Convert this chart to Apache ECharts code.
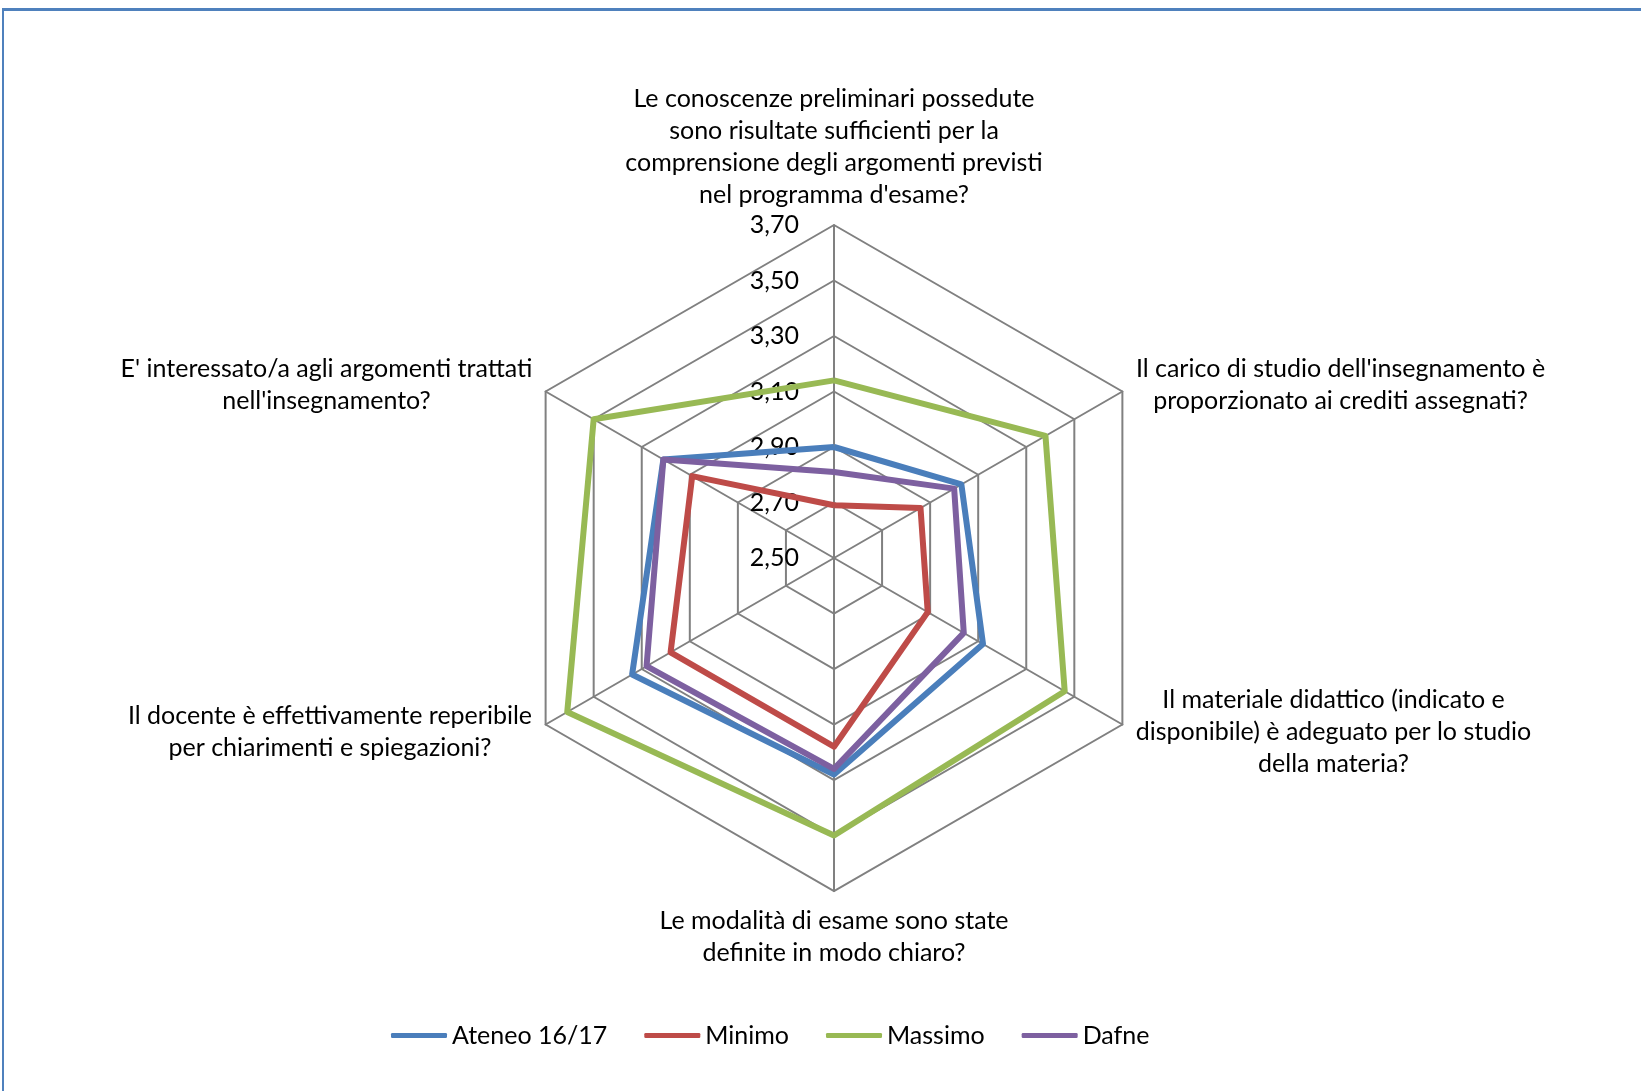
<!DOCTYPE html>
<html>
<head>
<meta charset="utf-8">
<script src="https://cdn.jsdelivr.net/npm/echarts@6/dist/echarts.min.js"></script>
<style>
    html, body { margin: 0; padding: 0; background: #fff; }
    #chart { position: absolute; left: 0; top: 0; width: 1641px; height: 1091px; }
    #frame { position: absolute; left: 2px; top: 8px; right: 0; bottom: 0;
             border-top: 3px solid #4f81bd; border-left: 2px solid #4f81bd; pointer-events: none; }
</style>
</head>
<body>
<div id="chart"></div>
<div id="frame"></div>
<script>
// domande, in senso orario dall'alto (come in Excel)
var categories = [
    "Le conoscenze preliminari possedute\nsono risultate sufficienti per la\ncomprensione degli argomenti previsti\nnel programma d'esame?",
    "Il carico di studio dell'insegnamento è\nproporzionato ai crediti assegnati?",
    "Il materiale didattico (indicato e\ndisponibile) è adeguato per lo studio\ndella materia?",
    "Le modalità di esame sono state\ndefinite in modo chiaro?",
    "Il docente è effettivamente reperibile\nper chiarimenti e spiegazioni?",
    "E' interessato/a agli argomenti trattati\nnell'insegnamento?"
];
var seriesNames = ['Ateneo 16/17', 'Minimo', 'Massimo', 'Dafne'];
var ateneo  = [2.90, 3.03, 3.12, 3.28, 3.34, 3.21];
var minimo  = [2.69, 2.86, 2.89, 3.18, 3.18, 3.09];
var massimo = [3.14, 3.38, 3.46, 3.50, 3.61, 3.50];
var dafne   = [2.81, 3.00, 3.04, 3.26, 3.28, 3.21];
var axisMin = 2.5, axisMax = 3.7, axisSplit = 6;

var colors = ['#4a7ebb', '#be4b48', '#98b954', '#7d60a0'];
var FONT = 'Lato';
var FSIZE = 25;

// echarts gira in senso antiorario -> riordino
var order = [0, 5, 4, 3, 2, 1];
var reorder = (arr) => order.map((i) => arr[i]);

// larghezza del blocco di testo, per centrare le righe
var ctx = document.createElement('canvas').getContext('2d');
ctx.font = FSIZE + 'px ' + FONT;
var blockWidth = (txt) => Math.max.apply(null, txt.split('\n').map((s) => ctx.measureText(s).width));

var rich = {};
var indicator = reorder(categories).map(function (c, i) {
    rich['n' + i] = { width: Math.ceil(blockWidth(c)) + 2, align: 'center', lineHeight: 32,
                      fontSize: FSIZE, fontFamily: FONT, color: '#000' };
    var ind = { name: c, min: axisMin, max: axisMax };
    if (i == 0) ind.axisLabel = { show: true };
    return ind;
});

var chart = echarts.init(document.getElementById('chart'), null, { renderer: 'canvas' });
chart.setOption({
    animation: false,
    color: colors,
    legend: {
        left: 386,
        top: 1018,
        data: seriesNames,
        icon: 'roundRect',
        itemWidth: 56,
        itemHeight: 5,
        itemGap: 37,
        textStyle: { fontFamily: FONT, fontSize: FSIZE, color: '#000' }
    },
    radar: {
        center: [834, 558],
        radius: 333,
        startAngle: 90,
        splitNumber: axisSplit,
        shape: 'polygon',
        nameGap: 14,
        indicator: indicator,
        axisName: {
            formatter: function (name) {
                var k = indicator.findIndex((d) => d.name == name);
                return name.split('\n').map((s) => '{n' + k + '|' + s + '}').join('\n');
            },
            rich: rich
        },
        axisLine: { lineStyle: { color: '#808080', width: 2 } },
        splitLine: { lineStyle: { color: '#808080', width: 2 } },
        splitArea: { show: false },
        axisTick: { show: false },
        axisLabel: {
            show: false,
            margin: 35,
            showMinLabel: true,
            showMaxLabel: true,
            fontFamily: FONT,
            fontSize: FSIZE,
            color: '#000',
            formatter: (v) => Number(v).toFixed(2).replace('.', ',')
        }
    },
    series: [{
        type: 'radar',
        symbol: 'none',
        lineStyle: { width: 6 },
        emphasis: { disabled: true },
        data: [ateneo, minimo, massimo, dafne].map(function (vals, i) {
            return {
                name: seriesNames[i],
                value: reorder(vals),
                lineStyle: { color: colors[i], width: 6 },
                itemStyle: { color: colors[i] }
            };
        })
    }]
});
</script>
</body>
</html>
